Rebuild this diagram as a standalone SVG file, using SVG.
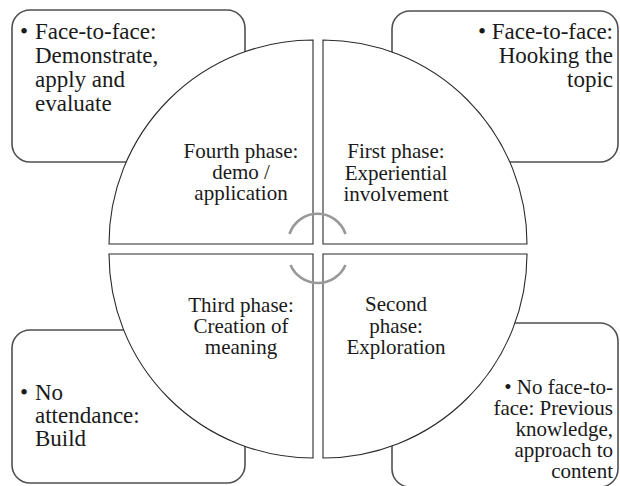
<svg xmlns="http://www.w3.org/2000/svg" width="620" height="486" viewBox="0 0 620 486">
<style>
.box{fill:#fff;stroke:#505050;stroke-width:1.6}
.quad{fill:#fff;stroke:#2a2a2a;stroke-width:1.1}
.arc{fill:none;stroke:#999;stroke-width:2.6}
.t{font-family:"Liberation Serif","Times New Roman",serif;fill:#1a1a1a}
.bt{font-size:23px}
.bt2{font-size:21px}
.pt{font-size:21px;text-anchor:middle}
.end{text-anchor:end}
</style>
<rect width="620" height="486" fill="#fff"/>
<g id="box-tl">
<rect class="box" x="12" y="10" width="233" height="152" rx="18"/>
<text class="t bt"><tspan x="20" y="39">•</tspan><tspan x="35" y="39">Face-to-face:</tspan><tspan x="35" y="63">Demonstrate,</tspan><tspan x="35" y="87">apply and</tspan><tspan x="35" y="111">evaluate</tspan></text>
</g>
<g id="box-tr">
<rect class="box" x="392" y="11" width="226" height="151" rx="18"/>
<text class="t bt end"><tspan x="613" y="39">• Face-to-face:</tspan><tspan x="613" y="63">Hooking the</tspan><tspan x="613" y="87">topic</tspan></text>
</g>
<g id="box-bl">
<rect class="box" x="12" y="330" width="233" height="153" rx="18"/>
<text class="t bt"><tspan x="20" y="400">•</tspan><tspan x="35" y="400">No</tspan><tspan x="35" y="423">attendance:</tspan><tspan x="35" y="446">Build</tspan></text>
</g>
<g id="box-br">
<rect class="box" x="392" y="323" width="226" height="164" rx="18"/>
<text class="t bt2 end"><tspan x="613" y="394">• No face-to-</tspan><tspan x="613" y="415">face: Previous</tspan><tspan x="613" y="436">knowledge,</tspan><tspan x="613" y="457">approach to</tspan><tspan x="613" y="478">content</tspan></text>
</g>
<g id="phase-4">
<path class="quad" d="M313,244 L313,40 A204,204 0 0 0 109,244 Z"/>
<text class="t pt"><tspan x="241" y="158">Fourth phase:</tspan><tspan x="241" y="179">demo /</tspan><tspan x="241" y="200">application</tspan></text>
</g>
<g id="phase-1">
<path class="quad" d="M323,244 L323,40 A204,204 0 0 1 527,244 Z"/>
<text class="t pt"><tspan x="396" y="158">First phase:</tspan><tspan x="396" y="180">Experiential</tspan><tspan x="396" y="201">involvement</tspan></text>
</g>
<g id="phase-3">
<path class="quad" d="M313,254 L109,254 A204,204 0 0 0 313,458 Z"/>
<text class="t pt"><tspan x="241" y="312">Third phase:</tspan><tspan x="241" y="333">Creation of</tspan><tspan x="241" y="354">meaning</tspan></text>
</g>
<g id="phase-2">
<path class="quad" d="M323,254 L527,254 A204,204 0 0 1 323,458 Z"/>
<text class="t pt"><tspan x="396" y="311">Second</tspan><tspan x="396" y="333">phase:</tspan><tspan x="396" y="354">Exploration</tspan></text>
</g>
<g id="connectors">
<path class="arc" d="M289.5,234 A29.5,29.5 0 0 1 345.5,234"/>
<path class="arc" d="M290.5,265 A30,30 0 0 0 345.5,265"/>
</g>
</svg>
